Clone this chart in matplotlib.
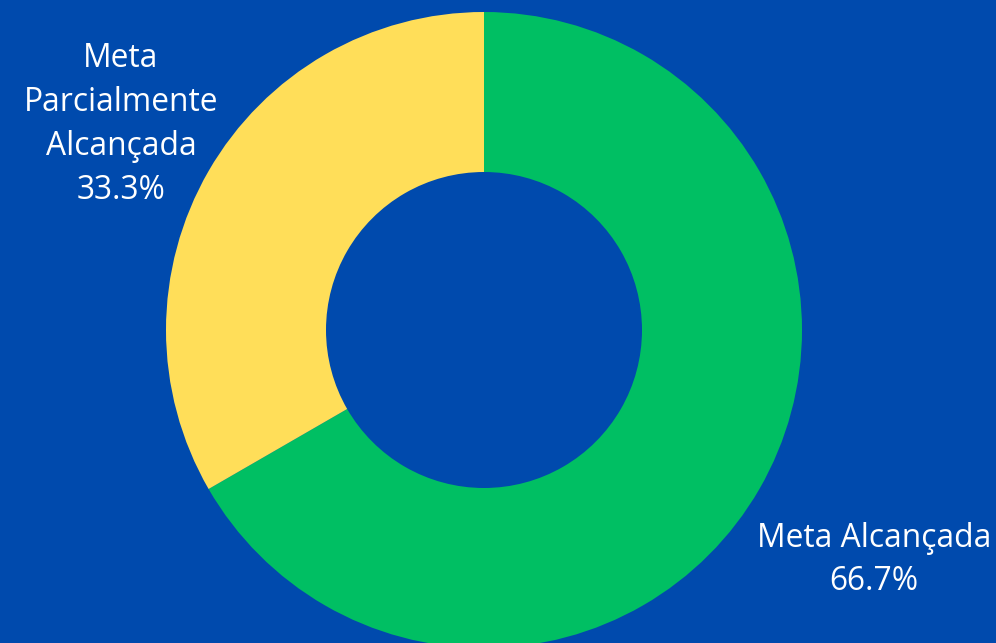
import matplotlib
matplotlib.use('Agg')
import matplotlib.pyplot as plt

plt.rcParams['font.family'] = ['Open Sans', 'DejaVu Sans']

# data
labels = ['Meta Alcançada', 'Meta\nParcialmente\nAlcançada']
counts = [2, 1]
colors = ['#00bf63', '#ffde59']
bg = '#004aad'

pct = [100.0 * c / sum(counts) for c in counts]

fig = plt.figure(figsize=(9.96, 6.43), dpi=100, facecolor=bg)
ax = fig.add_axes([0, 0, 1, 1])
ax.set_facecolor(bg)

# pie in pixel-like coordinates
ax.pie(counts, colors=colors, startangle=90, counterclock=False,
       center=(484, 313), radius=318, frame=True,
       wedgeprops=dict(width=160, edgecolor='none'))

ax.set_xlim(0, 996)
ax.set_ylim(0, 643)
ax.set_aspect('equal')
ax.axis('off')

# label positions
lab_xy = [(874, 83), (121, 518.5)]
for lab, p, (x, y) in zip(labels, pct, lab_xy):
    ax.text(x, y, '%s\n%.1f%%' % (lab, p), color='white', fontsize=22.9,
            ha='center', va='center', linespacing=1.43)

fig.savefig('out.png', dpi=100, facecolor=bg)
